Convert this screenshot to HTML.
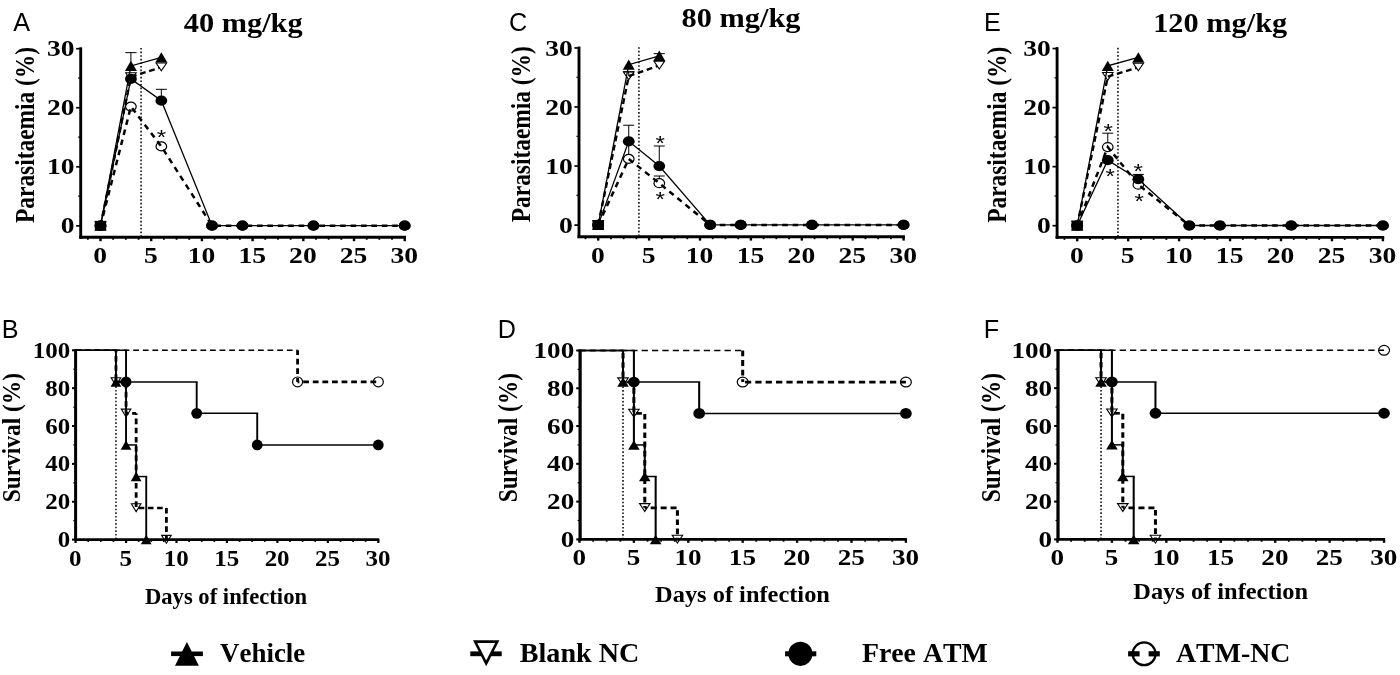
<!DOCTYPE html>
<html lang="en">
<head>
<meta charset="utf-8">
<title>Parasitaemia and survival</title>
<style>
html,body{margin:0;padding:0;background:#fff;}
body{width:1400px;height:675px;overflow:hidden;}
svg{display:block;will-change:transform;}
text{stroke:none;fill:#000;font-weight:bold;font-kerning:none;font-variant-ligatures:none;}
.ser{font-family:"Liberation Serif", "Times New Roman", serif;}
.san{font-family:"Liberation Sans", Arial, sans-serif;}
</style>
</head>
<body>
<svg width="1400" height="675" viewBox="0 0 1400 675" stroke="#000" fill="#000">
<rect x="0" y="0" width="1400" height="675" fill="#fff" stroke="none"/>
<text class="san" transform="translate(13.3 30.9)" font-size="25.2" text-anchor="start" style="font-weight:normal">A</text>
<text class="ser" transform="translate(183.8 31.5) scale(1.08 1)" font-size="28.1" text-anchor="start">40 mg/kg</text>
<text class="ser" transform="translate(34 134.95) rotate(-90) scale(1 1.2)" font-size="23.4" text-anchor="middle">Parasitaemia (%)</text>
<line x1="141.06" y1="48" x2="141.06" y2="236.1" stroke-width="1.5" stroke-dasharray="1.6 2"/>
<line x1="80.7" y1="47.3" x2="80.7" y2="238.75" stroke-width="2.9"/>
<line x1="79.25" y1="237.3" x2="406" y2="237.3" stroke-width="2.9"/>
<line x1="76.1" y1="225.85" x2="80.7" y2="225.85" stroke-width="1.7"/>
<text class="ser" transform="translate(74.5 233.45) scale(1.15 1)" font-size="24" text-anchor="end">0</text>
<line x1="76.1" y1="166.8" x2="80.7" y2="166.8" stroke-width="1.7"/>
<text class="ser" transform="translate(74.5 174.4) scale(1.15 1)" font-size="24" text-anchor="end">10</text>
<line x1="76.1" y1="107.75" x2="80.7" y2="107.75" stroke-width="1.7"/>
<text class="ser" transform="translate(74.5 115.35) scale(1.15 1)" font-size="24" text-anchor="end">20</text>
<line x1="76.1" y1="48.7" x2="80.7" y2="48.7" stroke-width="1.7"/>
<text class="ser" transform="translate(74.5 56.3) scale(1.15 1)" font-size="24" text-anchor="end">30</text>
<line x1="78.1" y1="196.12" x2="80.7" y2="196.12" stroke-width="1.2"/>
<line x1="78.1" y1="137.07" x2="80.7" y2="137.07" stroke-width="1.2"/>
<line x1="78.1" y1="78.03" x2="80.7" y2="78.03" stroke-width="1.2"/>
<line x1="100.5" y1="237.3" x2="100.5" y2="241.2" stroke-width="2.4"/>
<text class="ser" transform="translate(100.1 263.25) scale(1.15 1)" font-size="24" text-anchor="middle">0</text>
<line x1="151.2" y1="237.3" x2="151.2" y2="241.2" stroke-width="2.4"/>
<text class="ser" transform="translate(150.8 263.25) scale(1.15 1)" font-size="24" text-anchor="middle">5</text>
<line x1="201.9" y1="237.3" x2="201.9" y2="241.2" stroke-width="2.4"/>
<text class="ser" transform="translate(201.5 263.25) scale(1.15 1)" font-size="24" text-anchor="middle">10</text>
<line x1="252.6" y1="237.3" x2="252.6" y2="241.2" stroke-width="2.4"/>
<text class="ser" transform="translate(252.2 263.25) scale(1.15 1)" font-size="24" text-anchor="middle">15</text>
<line x1="303.3" y1="237.3" x2="303.3" y2="241.2" stroke-width="2.4"/>
<text class="ser" transform="translate(302.9 263.25) scale(1.15 1)" font-size="24" text-anchor="middle">20</text>
<line x1="354" y1="237.3" x2="354" y2="241.2" stroke-width="2.4"/>
<text class="ser" transform="translate(353.6 263.25) scale(1.15 1)" font-size="24" text-anchor="middle">25</text>
<line x1="404.7" y1="237.3" x2="404.7" y2="241.2" stroke-width="2.4"/>
<text class="ser" transform="translate(404.3 263.25) scale(1.15 1)" font-size="24" text-anchor="middle">30</text>
<line x1="87.83" y1="237.3" x2="87.83" y2="239.8" stroke-width="1.8"/>
<line x1="113.17" y1="237.3" x2="113.17" y2="239.8" stroke-width="1.8"/>
<line x1="125.85" y1="237.3" x2="125.85" y2="239.8" stroke-width="1.8"/>
<line x1="138.53" y1="237.3" x2="138.53" y2="239.8" stroke-width="1.8"/>
<line x1="163.88" y1="237.3" x2="163.88" y2="239.8" stroke-width="1.8"/>
<line x1="176.55" y1="237.3" x2="176.55" y2="239.8" stroke-width="1.8"/>
<line x1="189.23" y1="237.3" x2="189.23" y2="239.8" stroke-width="1.8"/>
<line x1="214.57" y1="237.3" x2="214.57" y2="239.8" stroke-width="1.8"/>
<line x1="227.25" y1="237.3" x2="227.25" y2="239.8" stroke-width="1.8"/>
<line x1="239.93" y1="237.3" x2="239.93" y2="239.8" stroke-width="1.8"/>
<line x1="265.27" y1="237.3" x2="265.27" y2="239.8" stroke-width="1.8"/>
<line x1="277.95" y1="237.3" x2="277.95" y2="239.8" stroke-width="1.8"/>
<line x1="290.62" y1="237.3" x2="290.62" y2="239.8" stroke-width="1.8"/>
<line x1="315.98" y1="237.3" x2="315.98" y2="239.8" stroke-width="1.8"/>
<line x1="328.65" y1="237.3" x2="328.65" y2="239.8" stroke-width="1.8"/>
<line x1="341.33" y1="237.3" x2="341.33" y2="239.8" stroke-width="1.8"/>
<line x1="366.68" y1="237.3" x2="366.68" y2="239.8" stroke-width="1.8"/>
<line x1="379.35" y1="237.3" x2="379.35" y2="239.8" stroke-width="1.8"/>
<line x1="392.03" y1="237.3" x2="392.03" y2="239.8" stroke-width="1.8"/>
<line x1="130.92" y1="61.92" x2="130.92" y2="52.63" stroke-width="1"/>
<line x1="125.32" y1="52.63" x2="136.52" y2="52.63" stroke-width="1"/>
<path d="M100.5 225.65 L130.92 65.92 L161.34 57.42" fill="none" stroke-width="1.3" stroke-linejoin="miter"/>
<polygon points="94.5,230.85 106.5,230.85 100.5,220.45" fill="#000" stroke="none"/>
<polygon points="124.92,71.12 136.92,71.12 130.92,60.72" fill="#000" stroke="none"/>
<polygon points="155.34,62.62 167.34,62.62 161.34,52.22" fill="#000" stroke="none"/>
<path d="M100.5 225.65 L130.92 76.84 L161.34 67.22" fill="none" stroke-width="2.4" stroke-linejoin="miter" stroke-dasharray="5.8 3.7"/>
<polygon points="95.25,221.5 105.75,221.5 100.5,229.25" fill="none" stroke-width="1.1" stroke-linejoin="miter"/>
<polygon points="125.67,72.69 136.17,72.69 130.92,80.44" fill="none" stroke-width="1.1" stroke-linejoin="miter"/>
<polygon points="156.09,63.07 166.59,63.07 161.34,70.82" fill="#fff" stroke-width="1.1" stroke-linejoin="miter"/>
<path d="M100.5 225.65 L130.92 106.61 L161.34 146.4 L212.04 225.65 L242.46 225.65 L313.44 225.65 L404.7 225.65" fill="none" stroke-width="2.5" stroke-linejoin="miter" stroke-dasharray="5.6 4.8"/>
<ellipse cx="100.5" cy="225.65" rx="5.3" ry="4.5" fill="none" stroke-width="1.2"/>
<ellipse cx="130.92" cy="106.61" rx="5.3" ry="4.5" fill="none" stroke-width="1.2"/>
<ellipse cx="161.34" cy="146.4" rx="5.3" ry="4.5" fill="none" stroke-width="1.2"/>
<ellipse cx="212.04" cy="225.65" rx="5.3" ry="4.5" fill="none" stroke-width="1.2"/>
<ellipse cx="242.46" cy="225.65" rx="5.3" ry="4.5" fill="none" stroke-width="1.2"/>
<ellipse cx="313.44" cy="225.65" rx="5.3" ry="4.5" fill="none" stroke-width="1.2"/>
<ellipse cx="404.7" cy="225.65" rx="5.3" ry="4.5" fill="none" stroke-width="1.2"/>
<line x1="161.34" y1="100.7" x2="161.34" y2="89.3" stroke-width="1"/>
<line x1="155.84" y1="89.3" x2="166.84" y2="89.3" stroke-width="1"/>
<path d="M100.5 225.65 L130.92 78.91 L161.34 100.7 L212.04 225.65 L242.46 225.65 L313.44 225.65 L404.7 225.65" fill="none" stroke-width="1.3" stroke-linejoin="miter"/>
<ellipse cx="100.5" cy="225.65" rx="5.9" ry="5.1" fill="#000" stroke="none"/>
<ellipse cx="130.92" cy="78.91" rx="5.9" ry="5.1" fill="#000" stroke="none"/>
<ellipse cx="161.34" cy="100.7" rx="5.9" ry="5.1" fill="#000" stroke="none"/>
<ellipse cx="212.04" cy="225.65" rx="5.9" ry="5.1" fill="#000" stroke="none"/>
<ellipse cx="242.46" cy="225.65" rx="5.9" ry="5.1" fill="#000" stroke="none"/>
<ellipse cx="313.44" cy="225.65" rx="5.9" ry="5.1" fill="#000" stroke="none"/>
<ellipse cx="404.7" cy="225.65" rx="5.9" ry="5.1" fill="#000" stroke="none"/>
<rect x="94.8" y="220.85" width="11.4" height="9.6" fill="#000" stroke="none"/>
<text class="san" transform="translate(161.5 144.2) scale(1.15 1)" font-size="21" text-anchor="middle" style="font-weight:normal">*</text>
<text class="san" transform="translate(509 31)" font-size="25.2" text-anchor="start" style="font-weight:normal">C</text>
<text class="ser" transform="translate(681.6 26.7) scale(1.08 1)" font-size="28.1" text-anchor="start">80 mg/kg</text>
<text class="ser" transform="translate(530 134.2) rotate(-90) scale(1 1.2)" font-size="23.4" text-anchor="middle">Parasitaemia (%)</text>
<line x1="638.92" y1="47.25" x2="638.92" y2="235.5" stroke-width="1.5" stroke-dasharray="1.6 2"/>
<line x1="579" y1="46.55" x2="579" y2="238.15" stroke-width="2.9"/>
<line x1="577.55" y1="236.7" x2="904.9" y2="236.7" stroke-width="2.9"/>
<line x1="574.4" y1="225.1" x2="579" y2="225.1" stroke-width="1.7"/>
<text class="ser" transform="translate(572.8 232.7) scale(1.15 1)" font-size="24" text-anchor="end">0</text>
<line x1="574.4" y1="166.05" x2="579" y2="166.05" stroke-width="1.7"/>
<text class="ser" transform="translate(572.8 173.65) scale(1.15 1)" font-size="24" text-anchor="end">10</text>
<line x1="574.4" y1="107" x2="579" y2="107" stroke-width="1.7"/>
<text class="ser" transform="translate(572.8 114.6) scale(1.15 1)" font-size="24" text-anchor="end">20</text>
<line x1="574.4" y1="47.95" x2="579" y2="47.95" stroke-width="1.7"/>
<text class="ser" transform="translate(572.8 55.55) scale(1.15 1)" font-size="24" text-anchor="end">30</text>
<line x1="576.4" y1="195.38" x2="579" y2="195.38" stroke-width="1.2"/>
<line x1="576.4" y1="136.32" x2="579" y2="136.32" stroke-width="1.2"/>
<line x1="576.4" y1="77.28" x2="579" y2="77.28" stroke-width="1.2"/>
<line x1="598.2" y1="236.7" x2="598.2" y2="240.6" stroke-width="2.4"/>
<text class="ser" transform="translate(597.8 262.65) scale(1.15 1)" font-size="24" text-anchor="middle">0</text>
<line x1="649.1" y1="236.7" x2="649.1" y2="240.6" stroke-width="2.4"/>
<text class="ser" transform="translate(648.7 262.65) scale(1.15 1)" font-size="24" text-anchor="middle">5</text>
<line x1="700" y1="236.7" x2="700" y2="240.6" stroke-width="2.4"/>
<text class="ser" transform="translate(699.6 262.65) scale(1.15 1)" font-size="24" text-anchor="middle">10</text>
<line x1="750.9" y1="236.7" x2="750.9" y2="240.6" stroke-width="2.4"/>
<text class="ser" transform="translate(750.5 262.65) scale(1.15 1)" font-size="24" text-anchor="middle">15</text>
<line x1="801.8" y1="236.7" x2="801.8" y2="240.6" stroke-width="2.4"/>
<text class="ser" transform="translate(801.4 262.65) scale(1.15 1)" font-size="24" text-anchor="middle">20</text>
<line x1="852.7" y1="236.7" x2="852.7" y2="240.6" stroke-width="2.4"/>
<text class="ser" transform="translate(852.3 262.65) scale(1.15 1)" font-size="24" text-anchor="middle">25</text>
<line x1="903.6" y1="236.7" x2="903.6" y2="240.6" stroke-width="2.4"/>
<text class="ser" transform="translate(903.2 262.65) scale(1.15 1)" font-size="24" text-anchor="middle">30</text>
<line x1="585.48" y1="236.7" x2="585.48" y2="239.2" stroke-width="1.8"/>
<line x1="610.93" y1="236.7" x2="610.93" y2="239.2" stroke-width="1.8"/>
<line x1="623.65" y1="236.7" x2="623.65" y2="239.2" stroke-width="1.8"/>
<line x1="636.38" y1="236.7" x2="636.38" y2="239.2" stroke-width="1.8"/>
<line x1="661.83" y1="236.7" x2="661.83" y2="239.2" stroke-width="1.8"/>
<line x1="674.55" y1="236.7" x2="674.55" y2="239.2" stroke-width="1.8"/>
<line x1="687.28" y1="236.7" x2="687.28" y2="239.2" stroke-width="1.8"/>
<line x1="712.73" y1="236.7" x2="712.73" y2="239.2" stroke-width="1.8"/>
<line x1="725.45" y1="236.7" x2="725.45" y2="239.2" stroke-width="1.8"/>
<line x1="738.18" y1="236.7" x2="738.18" y2="239.2" stroke-width="1.8"/>
<line x1="763.62" y1="236.7" x2="763.62" y2="239.2" stroke-width="1.8"/>
<line x1="776.35" y1="236.7" x2="776.35" y2="239.2" stroke-width="1.8"/>
<line x1="789.08" y1="236.7" x2="789.08" y2="239.2" stroke-width="1.8"/>
<line x1="814.53" y1="236.7" x2="814.53" y2="239.2" stroke-width="1.8"/>
<line x1="827.25" y1="236.7" x2="827.25" y2="239.2" stroke-width="1.8"/>
<line x1="839.98" y1="236.7" x2="839.98" y2="239.2" stroke-width="1.8"/>
<line x1="865.42" y1="236.7" x2="865.42" y2="239.2" stroke-width="1.8"/>
<line x1="878.15" y1="236.7" x2="878.15" y2="239.2" stroke-width="1.8"/>
<line x1="890.88" y1="236.7" x2="890.88" y2="239.2" stroke-width="1.8"/>
<line x1="659.28" y1="51.78" x2="659.28" y2="53.66" stroke-width="1"/>
<line x1="653.68" y1="53.66" x2="664.88" y2="53.66" stroke-width="1"/>
<path d="M598.2 224.9 L628.74 64.64 L659.28 55.78" fill="none" stroke-width="1.3" stroke-linejoin="miter"/>
<polygon points="592.2,230.1 604.2,230.1 598.2,219.7" fill="#000" stroke="none"/>
<polygon points="622.74,69.84 634.74,69.84 628.74,59.44" fill="#000" stroke="none"/>
<polygon points="653.28,60.98 665.28,60.98 659.28,50.58" fill="#000" stroke="none"/>
<line x1="628.74" y1="76.09" x2="628.74" y2="71.67" stroke-width="1"/>
<line x1="623.14" y1="71.67" x2="634.34" y2="71.67" stroke-width="1"/>
<path d="M598.2 224.9 L628.74 76.09 L659.28 65.47" fill="none" stroke-width="2.4" stroke-linejoin="miter" stroke-dasharray="5.8 3.7"/>
<polygon points="592.95,220.75 603.45,220.75 598.2,228.5" fill="none" stroke-width="1.1" stroke-linejoin="miter"/>
<polygon points="623.49,71.94 633.99,71.94 628.74,79.69" fill="none" stroke-width="1.1" stroke-linejoin="miter"/>
<polygon points="654.03,61.31 664.53,61.31 659.28,69.07" fill="#fff" stroke-width="1.1" stroke-linejoin="miter"/>
<line x1="628.74" y1="154.08" x2="628.74" y2="142.23" stroke-width="1"/>
<line x1="623.24" y1="142.23" x2="634.24" y2="142.23" stroke-width="1"/>
<line x1="659.28" y1="178.41" x2="659.28" y2="176.01" stroke-width="1"/>
<line x1="653.78" y1="176.01" x2="664.78" y2="176.01" stroke-width="1"/>
<path d="M598.2 224.9 L628.74 158.88 L659.28 183.21 L710.18 224.9 L740.72 224.9 L811.98 224.9 L903.6 224.9" fill="none" stroke-width="2.5" stroke-linejoin="miter" stroke-dasharray="5.6 4.8"/>
<ellipse cx="598.2" cy="224.9" rx="5.3" ry="4.5" fill="none" stroke-width="1.2"/>
<ellipse cx="628.74" cy="158.88" rx="5.3" ry="4.5" fill="none" stroke-width="1.2"/>
<ellipse cx="659.28" cy="183.21" rx="5.3" ry="4.5" fill="none" stroke-width="1.2"/>
<ellipse cx="710.18" cy="224.9" rx="5.3" ry="4.5" fill="none" stroke-width="1.2"/>
<ellipse cx="740.72" cy="224.9" rx="5.3" ry="4.5" fill="none" stroke-width="1.2"/>
<ellipse cx="811.98" cy="224.9" rx="5.3" ry="4.5" fill="none" stroke-width="1.2"/>
<ellipse cx="903.6" cy="224.9" rx="5.3" ry="4.5" fill="none" stroke-width="1.2"/>
<line x1="628.74" y1="141.29" x2="628.74" y2="125.22" stroke-width="1"/>
<line x1="623.24" y1="125.22" x2="634.24" y2="125.22" stroke-width="1"/>
<line x1="659.28" y1="166.09" x2="659.28" y2="146.01" stroke-width="1"/>
<line x1="653.78" y1="146.01" x2="664.78" y2="146.01" stroke-width="1"/>
<path d="M598.2 224.9 L628.74 141.29 L659.28 166.09 L710.18 224.9 L740.72 224.9 L811.98 224.9 L903.6 224.9" fill="none" stroke-width="1.3" stroke-linejoin="miter"/>
<ellipse cx="598.2" cy="224.9" rx="5.9" ry="5.1" fill="#000" stroke="none"/>
<ellipse cx="628.74" cy="141.29" rx="5.9" ry="5.1" fill="#000" stroke="none"/>
<ellipse cx="659.28" cy="166.09" rx="5.9" ry="5.1" fill="#000" stroke="none"/>
<ellipse cx="710.18" cy="224.9" rx="5.9" ry="5.1" fill="#000" stroke="none"/>
<ellipse cx="740.72" cy="224.9" rx="5.9" ry="5.1" fill="#000" stroke="none"/>
<ellipse cx="811.98" cy="224.9" rx="5.9" ry="5.1" fill="#000" stroke="none"/>
<ellipse cx="903.6" cy="224.9" rx="5.9" ry="5.1" fill="#000" stroke="none"/>
<rect x="592.5" y="220.1" width="11.4" height="9.6" fill="#000" stroke="none"/>
<text class="san" transform="translate(660.2 149.7) scale(1.15 1)" font-size="21" text-anchor="middle" style="font-weight:normal">*</text>
<text class="san" transform="translate(660.1 205.7) scale(1.15 1)" font-size="21" text-anchor="middle" style="font-weight:normal">*</text>
<text class="san" transform="translate(983.9 30.9)" font-size="25.2" text-anchor="start" style="font-weight:normal">E</text>
<text class="ser" transform="translate(1153.2 31.5) scale(1.08 1)" font-size="28.1" text-anchor="start">120 mg/kg</text>
<text class="ser" transform="translate(1006.1 134.8) rotate(-90) scale(1 1.2)" font-size="23.4" text-anchor="middle">Parasitaemia (%)</text>
<line x1="1117.96" y1="47.85" x2="1117.96" y2="236.2" stroke-width="1.5" stroke-dasharray="1.6 2"/>
<line x1="1057.1" y1="47.15" x2="1057.1" y2="238.85" stroke-width="2.9"/>
<line x1="1055.65" y1="237.4" x2="1384.2" y2="237.4" stroke-width="2.9"/>
<line x1="1052.5" y1="225.7" x2="1057.1" y2="225.7" stroke-width="1.7"/>
<text class="ser" transform="translate(1050.9 233.3) scale(1.15 1)" font-size="24" text-anchor="end">0</text>
<line x1="1052.5" y1="166.65" x2="1057.1" y2="166.65" stroke-width="1.7"/>
<text class="ser" transform="translate(1050.9 174.25) scale(1.15 1)" font-size="24" text-anchor="end">10</text>
<line x1="1052.5" y1="107.6" x2="1057.1" y2="107.6" stroke-width="1.7"/>
<text class="ser" transform="translate(1050.9 115.2) scale(1.15 1)" font-size="24" text-anchor="end">20</text>
<line x1="1052.5" y1="48.55" x2="1057.1" y2="48.55" stroke-width="1.7"/>
<text class="ser" transform="translate(1050.9 56.15) scale(1.15 1)" font-size="24" text-anchor="end">30</text>
<line x1="1054.5" y1="195.97" x2="1057.1" y2="195.97" stroke-width="1.2"/>
<line x1="1054.5" y1="136.93" x2="1057.1" y2="136.93" stroke-width="1.2"/>
<line x1="1054.5" y1="77.88" x2="1057.1" y2="77.88" stroke-width="1.2"/>
<line x1="1077.2" y1="237.4" x2="1077.2" y2="241.3" stroke-width="2.4"/>
<text class="ser" transform="translate(1076.8 263.35) scale(1.15 1)" font-size="24" text-anchor="middle">0</text>
<line x1="1128.15" y1="237.4" x2="1128.15" y2="241.3" stroke-width="2.4"/>
<text class="ser" transform="translate(1127.75 263.35) scale(1.15 1)" font-size="24" text-anchor="middle">5</text>
<line x1="1179.1" y1="237.4" x2="1179.1" y2="241.3" stroke-width="2.4"/>
<text class="ser" transform="translate(1178.7 263.35) scale(1.15 1)" font-size="24" text-anchor="middle">10</text>
<line x1="1230.05" y1="237.4" x2="1230.05" y2="241.3" stroke-width="2.4"/>
<text class="ser" transform="translate(1229.65 263.35) scale(1.15 1)" font-size="24" text-anchor="middle">15</text>
<line x1="1281" y1="237.4" x2="1281" y2="241.3" stroke-width="2.4"/>
<text class="ser" transform="translate(1280.6 263.35) scale(1.15 1)" font-size="24" text-anchor="middle">20</text>
<line x1="1331.95" y1="237.4" x2="1331.95" y2="241.3" stroke-width="2.4"/>
<text class="ser" transform="translate(1331.55 263.35) scale(1.15 1)" font-size="24" text-anchor="middle">25</text>
<line x1="1382.9" y1="237.4" x2="1382.9" y2="241.3" stroke-width="2.4"/>
<text class="ser" transform="translate(1382.5 263.35) scale(1.15 1)" font-size="24" text-anchor="middle">30</text>
<line x1="1064.46" y1="237.4" x2="1064.46" y2="239.9" stroke-width="1.8"/>
<line x1="1089.94" y1="237.4" x2="1089.94" y2="239.9" stroke-width="1.8"/>
<line x1="1102.67" y1="237.4" x2="1102.67" y2="239.9" stroke-width="1.8"/>
<line x1="1115.41" y1="237.4" x2="1115.41" y2="239.9" stroke-width="1.8"/>
<line x1="1140.89" y1="237.4" x2="1140.89" y2="239.9" stroke-width="1.8"/>
<line x1="1153.62" y1="237.4" x2="1153.62" y2="239.9" stroke-width="1.8"/>
<line x1="1166.36" y1="237.4" x2="1166.36" y2="239.9" stroke-width="1.8"/>
<line x1="1191.84" y1="237.4" x2="1191.84" y2="239.9" stroke-width="1.8"/>
<line x1="1204.58" y1="237.4" x2="1204.58" y2="239.9" stroke-width="1.8"/>
<line x1="1217.31" y1="237.4" x2="1217.31" y2="239.9" stroke-width="1.8"/>
<line x1="1242.79" y1="237.4" x2="1242.79" y2="239.9" stroke-width="1.8"/>
<line x1="1255.53" y1="237.4" x2="1255.53" y2="239.9" stroke-width="1.8"/>
<line x1="1268.26" y1="237.4" x2="1268.26" y2="239.9" stroke-width="1.8"/>
<line x1="1293.74" y1="237.4" x2="1293.74" y2="239.9" stroke-width="1.8"/>
<line x1="1306.47" y1="237.4" x2="1306.47" y2="239.9" stroke-width="1.8"/>
<line x1="1319.21" y1="237.4" x2="1319.21" y2="239.9" stroke-width="1.8"/>
<line x1="1344.69" y1="237.4" x2="1344.69" y2="239.9" stroke-width="1.8"/>
<line x1="1357.42" y1="237.4" x2="1357.42" y2="239.9" stroke-width="1.8"/>
<line x1="1370.16" y1="237.4" x2="1370.16" y2="239.9" stroke-width="1.8"/>
<path d="M1077.2 225.5 L1107.77 65.89 L1138.34 57.38" fill="none" stroke-width="1.3" stroke-linejoin="miter"/>
<polygon points="1071.2,230.7 1083.2,230.7 1077.2,220.3" fill="#000" stroke="none"/>
<polygon points="1101.77,71.09 1113.77,71.09 1107.77,60.69" fill="#000" stroke="none"/>
<polygon points="1132.34,62.58 1144.34,62.58 1138.34,52.18" fill="#000" stroke="none"/>
<path d="M1077.2 225.5 L1107.77 76.69 L1138.34 67.25" fill="none" stroke-width="2.4" stroke-linejoin="miter" stroke-dasharray="5.8 3.7"/>
<polygon points="1071.95,221.35 1082.45,221.35 1077.2,229.1" fill="none" stroke-width="1.1" stroke-linejoin="miter"/>
<polygon points="1102.52,72.54 1113.02,72.54 1107.77,80.29" fill="none" stroke-width="1.1" stroke-linejoin="miter"/>
<polygon points="1133.09,63.1 1143.59,63.1 1138.34,70.85" fill="#fff" stroke-width="1.1" stroke-linejoin="miter"/>
<line x1="1107.77" y1="142.28" x2="1107.77" y2="133.2" stroke-width="1"/>
<line x1="1102.27" y1="133.2" x2="1113.27" y2="133.2" stroke-width="1"/>
<path d="M1077.2 225.5 L1107.77 147.08 L1138.34 184.7 L1189.29 225.5 L1219.86 225.5 L1291.19 225.5 L1382.9 225.5" fill="none" stroke-width="2.5" stroke-linejoin="miter" stroke-dasharray="5.6 4.8"/>
<ellipse cx="1077.2" cy="225.5" rx="5.3" ry="4.5" fill="none" stroke-width="1.2"/>
<ellipse cx="1107.77" cy="147.08" rx="5.3" ry="4.5" fill="none" stroke-width="1.2"/>
<ellipse cx="1138.34" cy="184.7" rx="5.3" ry="4.5" fill="none" stroke-width="1.2"/>
<ellipse cx="1189.29" cy="225.5" rx="5.3" ry="4.5" fill="none" stroke-width="1.2"/>
<ellipse cx="1219.86" cy="225.5" rx="5.3" ry="4.5" fill="none" stroke-width="1.2"/>
<ellipse cx="1291.19" cy="225.5" rx="5.3" ry="4.5" fill="none" stroke-width="1.2"/>
<ellipse cx="1382.9" cy="225.5" rx="5.3" ry="4.5" fill="none" stroke-width="1.2"/>
<line x1="1138.34" y1="179.2" x2="1138.34" y2="174.42" stroke-width="1"/>
<line x1="1132.84" y1="174.42" x2="1143.84" y2="174.42" stroke-width="1"/>
<path d="M1077.2 225.5 L1107.77 160.13 L1138.34 179.2 L1189.29 225.5 L1219.86 225.5 L1291.19 225.5 L1382.9 225.5" fill="none" stroke-width="1.3" stroke-linejoin="miter"/>
<ellipse cx="1077.2" cy="225.5" rx="5.9" ry="5.1" fill="#000" stroke="none"/>
<ellipse cx="1107.77" cy="160.13" rx="5.9" ry="5.1" fill="#000" stroke="none"/>
<ellipse cx="1138.34" cy="179.2" rx="5.9" ry="5.1" fill="#000" stroke="none"/>
<ellipse cx="1189.29" cy="225.5" rx="5.9" ry="5.1" fill="#000" stroke="none"/>
<ellipse cx="1219.86" cy="225.5" rx="5.9" ry="5.1" fill="#000" stroke="none"/>
<ellipse cx="1291.19" cy="225.5" rx="5.9" ry="5.1" fill="#000" stroke="none"/>
<ellipse cx="1382.9" cy="225.5" rx="5.9" ry="5.1" fill="#000" stroke="none"/>
<rect x="1071.5" y="220.7" width="11.4" height="9.6" fill="#000" stroke="none"/>
<text class="san" transform="translate(1108.2 137.6) scale(1.15 1)" font-size="21" text-anchor="middle" style="font-weight:normal">*</text>
<text class="san" transform="translate(1110.1 183.4) scale(1.15 1)" font-size="21" text-anchor="middle" style="font-weight:normal">*</text>
<text class="san" transform="translate(1138.3 178) scale(1.15 1)" font-size="21" text-anchor="middle" style="font-weight:normal">*</text>
<text class="san" transform="translate(1139.3 207.8) scale(1.15 1)" font-size="21" text-anchor="middle" style="font-weight:normal">*</text>
<text class="san" transform="translate(1.8 338.1)" font-size="25.2" text-anchor="start" style="font-weight:normal">B</text>
<text class="ser" transform="translate(19.9 437.7) rotate(-90) scale(1 1.06)" font-size="23.4" text-anchor="middle">Survival (%)</text>
<text class="ser" transform="translate(226 604) scale(1.01 1)" font-size="22.4" text-anchor="middle">Days of infection</text>
<line x1="115.96" y1="350.3" x2="115.96" y2="539.6" stroke-width="1.4" stroke-dasharray="1.6 2"/>
<line x1="75.6" y1="349.5" x2="75.6" y2="541" stroke-width="3"/>
<line x1="74.1" y1="539.6" x2="379.3" y2="539.6" stroke-width="2.8"/>
<line x1="72" y1="539.6" x2="75.6" y2="539.6" stroke-width="2"/>
<text class="ser" transform="translate(70.2 547.2) scale(1.04 1)" font-size="24" text-anchor="end">0</text>
<line x1="73.3" y1="520.67" x2="75.6" y2="520.67" stroke-width="1.2"/>
<line x1="72" y1="501.74" x2="75.6" y2="501.74" stroke-width="2"/>
<text class="ser" transform="translate(70.2 509.34) scale(1.04 1)" font-size="24" text-anchor="end">20</text>
<line x1="73.3" y1="482.81" x2="75.6" y2="482.81" stroke-width="1.2"/>
<line x1="72" y1="463.88" x2="75.6" y2="463.88" stroke-width="2"/>
<text class="ser" transform="translate(70.2 471.48) scale(1.04 1)" font-size="24" text-anchor="end">40</text>
<line x1="73.3" y1="444.95" x2="75.6" y2="444.95" stroke-width="1.2"/>
<line x1="72" y1="426.02" x2="75.6" y2="426.02" stroke-width="2"/>
<text class="ser" transform="translate(70.2 433.62) scale(1.04 1)" font-size="24" text-anchor="end">60</text>
<line x1="73.3" y1="407.09" x2="75.6" y2="407.09" stroke-width="1.2"/>
<line x1="72" y1="388.16" x2="75.6" y2="388.16" stroke-width="2"/>
<text class="ser" transform="translate(70.2 395.76) scale(1.04 1)" font-size="24" text-anchor="end">80</text>
<line x1="73.3" y1="369.23" x2="75.6" y2="369.23" stroke-width="1.2"/>
<line x1="72" y1="350.3" x2="75.6" y2="350.3" stroke-width="2"/>
<text class="ser" transform="translate(70.2 357.9) scale(1.04 1)" font-size="24" text-anchor="end">100</text>
<line x1="75.6" y1="539.6" x2="75.6" y2="543" stroke-width="2.2"/>
<text class="ser" transform="translate(75.3 565.5) scale(1.04 1)" font-size="24" text-anchor="middle">0</text>
<line x1="126.05" y1="539.6" x2="126.05" y2="543" stroke-width="2.2"/>
<text class="ser" transform="translate(125.75 565.5) scale(1.04 1)" font-size="24" text-anchor="middle">5</text>
<line x1="176.5" y1="539.6" x2="176.5" y2="543" stroke-width="2.2"/>
<text class="ser" transform="translate(176.2 565.5) scale(1.04 1)" font-size="24" text-anchor="middle">10</text>
<line x1="226.95" y1="539.6" x2="226.95" y2="543" stroke-width="2.2"/>
<text class="ser" transform="translate(226.65 565.5) scale(1.04 1)" font-size="24" text-anchor="middle">15</text>
<line x1="277.4" y1="539.6" x2="277.4" y2="543" stroke-width="2.2"/>
<text class="ser" transform="translate(277.1 565.5) scale(1.04 1)" font-size="24" text-anchor="middle">20</text>
<line x1="327.85" y1="539.6" x2="327.85" y2="543" stroke-width="2.2"/>
<text class="ser" transform="translate(327.55 565.5) scale(1.04 1)" font-size="24" text-anchor="middle">25</text>
<line x1="378.3" y1="539.6" x2="378.3" y2="543" stroke-width="2.2"/>
<text class="ser" transform="translate(378 565.5) scale(1.04 1)" font-size="24" text-anchor="middle">30</text>
<line x1="88.21" y1="539.6" x2="88.21" y2="541.9" stroke-width="1.7"/>
<line x1="100.82" y1="539.6" x2="100.82" y2="541.9" stroke-width="1.7"/>
<line x1="113.44" y1="539.6" x2="113.44" y2="541.9" stroke-width="1.7"/>
<line x1="138.66" y1="539.6" x2="138.66" y2="541.9" stroke-width="1.7"/>
<line x1="151.27" y1="539.6" x2="151.27" y2="541.9" stroke-width="1.7"/>
<line x1="163.89" y1="539.6" x2="163.89" y2="541.9" stroke-width="1.7"/>
<line x1="189.11" y1="539.6" x2="189.11" y2="541.9" stroke-width="1.7"/>
<line x1="201.72" y1="539.6" x2="201.72" y2="541.9" stroke-width="1.7"/>
<line x1="214.34" y1="539.6" x2="214.34" y2="541.9" stroke-width="1.7"/>
<line x1="239.56" y1="539.6" x2="239.56" y2="541.9" stroke-width="1.7"/>
<line x1="252.17" y1="539.6" x2="252.17" y2="541.9" stroke-width="1.7"/>
<line x1="264.79" y1="539.6" x2="264.79" y2="541.9" stroke-width="1.7"/>
<line x1="290.01" y1="539.6" x2="290.01" y2="541.9" stroke-width="1.7"/>
<line x1="302.62" y1="539.6" x2="302.62" y2="541.9" stroke-width="1.7"/>
<line x1="315.24" y1="539.6" x2="315.24" y2="541.9" stroke-width="1.7"/>
<line x1="340.46" y1="539.6" x2="340.46" y2="541.9" stroke-width="1.7"/>
<line x1="353.08" y1="539.6" x2="353.08" y2="541.9" stroke-width="1.7"/>
<line x1="365.69" y1="539.6" x2="365.69" y2="541.9" stroke-width="1.7"/>
<line x1="74.65" y1="350.3" x2="116.91" y2="350.3" stroke-width="1.5"/>
<line x1="115.96" y1="350.3" x2="115.96" y2="381.91" stroke-width="1.9"/>
<line x1="115.01" y1="381.91" x2="127" y2="381.91" stroke-width="1.5"/>
<line x1="126.05" y1="381.91" x2="126.05" y2="444.95" stroke-width="1.9"/>
<line x1="125.1" y1="444.95" x2="137.09" y2="444.95" stroke-width="1.5"/>
<line x1="136.14" y1="444.95" x2="136.14" y2="476.56" stroke-width="1.9"/>
<line x1="135.19" y1="476.56" x2="147.18" y2="476.56" stroke-width="1.5"/>
<line x1="146.23" y1="476.56" x2="146.23" y2="539.6" stroke-width="1.9"/>
<polygon points="110.61,386.66 121.31,386.66 115.96,377.16" fill="#000" stroke="none"/>
<polygon points="120.7,449.7 131.4,449.7 126.05,440.2" fill="#000" stroke="none"/>
<polygon points="130.79,481.31 141.49,481.31 136.14,471.81" fill="#000" stroke="none"/>
<polygon points="140.88,544.35 151.58,544.35 146.23,534.85" fill="#000" stroke="none"/>
<line x1="75.6" y1="350.3" x2="115.96" y2="350.3" stroke-width="1.5" stroke-dasharray="5.6 3.6" stroke-dashoffset="0"/>
<line x1="115.96" y1="350.3" x2="115.96" y2="381.91" stroke-width="2.8" stroke-dasharray="5.6 3.6" stroke-dashoffset="3.56"/>
<line x1="115.96" y1="381.91" x2="126.05" y2="381.91" stroke-width="2.7" stroke-dasharray="5.6 3.6" stroke-dashoffset="7.57"/>
<line x1="126.05" y1="381.91" x2="126.05" y2="413.34" stroke-width="2.8" stroke-dasharray="5.6 3.6" stroke-dashoffset="8.46"/>
<line x1="126.05" y1="413.34" x2="136.14" y2="413.34" stroke-width="2.7" stroke-dasharray="5.6 3.6" stroke-dashoffset="3.09"/>
<line x1="136.14" y1="413.34" x2="136.14" y2="507.99" stroke-width="2.8" stroke-dasharray="5.6 3.6" stroke-dashoffset="3.98"/>
<line x1="136.14" y1="507.99" x2="166.41" y2="507.99" stroke-width="2.7" stroke-dasharray="5.6 3.6" stroke-dashoffset="6.63"/>
<line x1="166.41" y1="507.99" x2="166.41" y2="539.6" stroke-width="2.8" stroke-dasharray="5.6 3.6" stroke-dashoffset="0.1"/>
<polygon points="111.16,377.71 120.76,377.71 115.96,385.56" fill="none" stroke-width="1.1" stroke-linejoin="miter"/>
<polygon points="121.25,409.14 130.85,409.14 126.05,416.99" fill="none" stroke-width="1.1" stroke-linejoin="miter"/>
<polygon points="131.34,503.79 140.94,503.79 136.14,511.64" fill="none" stroke-width="1.1" stroke-linejoin="miter"/>
<polygon points="161.61,535.4 171.21,535.4 166.41,543.25" fill="none" stroke-width="1.1" stroke-linejoin="miter"/>
<line x1="74.65" y1="350.3" x2="127" y2="350.3" stroke-width="1.5"/>
<line x1="126.05" y1="350.3" x2="126.05" y2="381.91" stroke-width="1.9"/>
<line x1="125.1" y1="381.91" x2="197.63" y2="381.91" stroke-width="1.5"/>
<line x1="196.68" y1="381.91" x2="196.68" y2="413.34" stroke-width="1.9"/>
<line x1="195.73" y1="413.34" x2="258.17" y2="413.34" stroke-width="1.5"/>
<line x1="257.22" y1="413.34" x2="257.22" y2="444.95" stroke-width="1.9"/>
<line x1="256.27" y1="444.95" x2="379.25" y2="444.95" stroke-width="1.5"/>
<ellipse cx="126.05" cy="381.91" rx="5.4" ry="5.4" fill="#000" stroke="none"/>
<ellipse cx="196.68" cy="413.34" rx="5.4" ry="5.4" fill="#000" stroke="none"/>
<ellipse cx="257.22" cy="444.95" rx="5.4" ry="5.4" fill="#000" stroke="none"/>
<ellipse cx="378.3" cy="444.95" rx="5.4" ry="5.4" fill="#000" stroke="none"/>
<line x1="75.6" y1="350.3" x2="297.58" y2="350.3" stroke-width="1.5" stroke-dasharray="5.8 3.8" stroke-dashoffset="0"/>
<line x1="297.58" y1="350.3" x2="297.58" y2="381.91" stroke-width="2.8" stroke-dasharray="5.8 3.8" stroke-dashoffset="1.18"/>
<line x1="297.58" y1="381.91" x2="378.3" y2="381.91" stroke-width="2.7" stroke-dasharray="5.8 3.8" stroke-dashoffset="3.99"/>
<ellipse cx="297.58" cy="381.91" rx="5" ry="4.9" fill="none" stroke-width="1.2"/>
<ellipse cx="378.3" cy="381.91" rx="5" ry="4.9" fill="none" stroke-width="1.2"/>
<text class="san" transform="translate(497.8 338.2)" font-size="25.2" text-anchor="start" style="font-weight:normal">D</text>
<text class="ser" transform="translate(517 437.7) rotate(-90) scale(1 1.2)" font-size="23.4" text-anchor="middle">Survival (%)</text>
<text class="ser" transform="translate(742.5 602.1) scale(1.09 1)" font-size="22.4" text-anchor="middle">Days of infection</text>
<line x1="623.02" y1="350.5" x2="623.02" y2="539.4" stroke-width="1.51" stroke-dasharray="1.6 2"/>
<line x1="580.1" y1="349.7" x2="580.1" y2="540.8" stroke-width="3.24"/>
<line x1="578.48" y1="539.4" x2="906.9" y2="539.4" stroke-width="2.8"/>
<line x1="576.21" y1="539.4" x2="580.1" y2="539.4" stroke-width="2"/>
<text class="ser" transform="translate(574.2 547) scale(1.13 1)" font-size="24" text-anchor="end">0</text>
<line x1="577.62" y1="520.51" x2="580.1" y2="520.51" stroke-width="1.2"/>
<line x1="576.21" y1="501.62" x2="580.1" y2="501.62" stroke-width="2"/>
<text class="ser" transform="translate(574.2 509.22) scale(1.13 1)" font-size="24" text-anchor="end">20</text>
<line x1="577.62" y1="482.73" x2="580.1" y2="482.73" stroke-width="1.2"/>
<line x1="576.21" y1="463.84" x2="580.1" y2="463.84" stroke-width="2"/>
<text class="ser" transform="translate(574.2 471.44) scale(1.13 1)" font-size="24" text-anchor="end">40</text>
<line x1="577.62" y1="444.95" x2="580.1" y2="444.95" stroke-width="1.2"/>
<line x1="576.21" y1="426.06" x2="580.1" y2="426.06" stroke-width="2"/>
<text class="ser" transform="translate(574.2 433.66) scale(1.13 1)" font-size="24" text-anchor="end">60</text>
<line x1="577.62" y1="407.17" x2="580.1" y2="407.17" stroke-width="1.2"/>
<line x1="576.21" y1="388.28" x2="580.1" y2="388.28" stroke-width="2"/>
<text class="ser" transform="translate(574.2 395.88) scale(1.13 1)" font-size="24" text-anchor="end">80</text>
<line x1="577.62" y1="369.39" x2="580.1" y2="369.39" stroke-width="1.2"/>
<line x1="576.21" y1="350.5" x2="580.1" y2="350.5" stroke-width="2"/>
<text class="ser" transform="translate(574.2 358.1) scale(1.13 1)" font-size="24" text-anchor="end">100</text>
<line x1="579.5" y1="539.4" x2="579.5" y2="542.8" stroke-width="2.38"/>
<text class="ser" transform="translate(579.2 564.9) scale(1.13 1)" font-size="24" text-anchor="middle">0</text>
<line x1="633.9" y1="539.4" x2="633.9" y2="542.8" stroke-width="2.38"/>
<text class="ser" transform="translate(633.6 564.9) scale(1.13 1)" font-size="24" text-anchor="middle">5</text>
<line x1="688.3" y1="539.4" x2="688.3" y2="542.8" stroke-width="2.38"/>
<text class="ser" transform="translate(688 564.9) scale(1.13 1)" font-size="24" text-anchor="middle">10</text>
<line x1="742.7" y1="539.4" x2="742.7" y2="542.8" stroke-width="2.38"/>
<text class="ser" transform="translate(742.4 564.9) scale(1.13 1)" font-size="24" text-anchor="middle">15</text>
<line x1="797.1" y1="539.4" x2="797.1" y2="542.8" stroke-width="2.38"/>
<text class="ser" transform="translate(796.8 564.9) scale(1.13 1)" font-size="24" text-anchor="middle">20</text>
<line x1="851.5" y1="539.4" x2="851.5" y2="542.8" stroke-width="2.38"/>
<text class="ser" transform="translate(851.2 564.9) scale(1.13 1)" font-size="24" text-anchor="middle">25</text>
<line x1="905.9" y1="539.4" x2="905.9" y2="542.8" stroke-width="2.38"/>
<text class="ser" transform="translate(905.6 564.9) scale(1.13 1)" font-size="24" text-anchor="middle">30</text>
<line x1="593.1" y1="539.4" x2="593.1" y2="541.7" stroke-width="1.84"/>
<line x1="606.7" y1="539.4" x2="606.7" y2="541.7" stroke-width="1.84"/>
<line x1="620.3" y1="539.4" x2="620.3" y2="541.7" stroke-width="1.84"/>
<line x1="647.5" y1="539.4" x2="647.5" y2="541.7" stroke-width="1.84"/>
<line x1="661.1" y1="539.4" x2="661.1" y2="541.7" stroke-width="1.84"/>
<line x1="674.7" y1="539.4" x2="674.7" y2="541.7" stroke-width="1.84"/>
<line x1="701.9" y1="539.4" x2="701.9" y2="541.7" stroke-width="1.84"/>
<line x1="715.5" y1="539.4" x2="715.5" y2="541.7" stroke-width="1.84"/>
<line x1="729.1" y1="539.4" x2="729.1" y2="541.7" stroke-width="1.84"/>
<line x1="756.3" y1="539.4" x2="756.3" y2="541.7" stroke-width="1.84"/>
<line x1="769.9" y1="539.4" x2="769.9" y2="541.7" stroke-width="1.84"/>
<line x1="783.5" y1="539.4" x2="783.5" y2="541.7" stroke-width="1.84"/>
<line x1="810.7" y1="539.4" x2="810.7" y2="541.7" stroke-width="1.84"/>
<line x1="824.3" y1="539.4" x2="824.3" y2="541.7" stroke-width="1.84"/>
<line x1="837.9" y1="539.4" x2="837.9" y2="541.7" stroke-width="1.84"/>
<line x1="865.1" y1="539.4" x2="865.1" y2="541.7" stroke-width="1.84"/>
<line x1="878.7" y1="539.4" x2="878.7" y2="541.7" stroke-width="1.84"/>
<line x1="892.3" y1="539.4" x2="892.3" y2="541.7" stroke-width="1.84"/>
<line x1="578.47" y1="350.5" x2="624.05" y2="350.5" stroke-width="1.5"/>
<line x1="623.02" y1="350.5" x2="623.02" y2="382.05" stroke-width="2.05"/>
<line x1="621.99" y1="382.05" x2="634.93" y2="382.05" stroke-width="1.5"/>
<line x1="633.9" y1="382.05" x2="633.9" y2="444.95" stroke-width="2.05"/>
<line x1="632.87" y1="444.95" x2="645.81" y2="444.95" stroke-width="1.5"/>
<line x1="644.78" y1="444.95" x2="644.78" y2="476.5" stroke-width="2.05"/>
<line x1="643.75" y1="476.5" x2="656.69" y2="476.5" stroke-width="1.5"/>
<line x1="655.66" y1="476.5" x2="655.66" y2="539.4" stroke-width="2.05"/>
<polygon points="617.24,386.8 628.8,386.8 623.02,377.3" fill="#000" stroke="none"/>
<polygon points="628.12,449.7 639.68,449.7 633.9,440.2" fill="#000" stroke="none"/>
<polygon points="639,481.25 650.56,481.25 644.78,471.75" fill="#000" stroke="none"/>
<polygon points="649.88,544.15 661.44,544.15 655.66,534.65" fill="#000" stroke="none"/>
<line x1="579.5" y1="350.5" x2="623.02" y2="350.5" stroke-width="1.5" stroke-dasharray="6.05 3.89" stroke-dashoffset="0"/>
<line x1="623.02" y1="350.5" x2="623.02" y2="382.05" stroke-width="3.02" stroke-dasharray="5.6 3.6" stroke-dashoffset="6.72"/>
<line x1="623.02" y1="382.05" x2="633.9" y2="382.05" stroke-width="2.7" stroke-dasharray="6.05 3.89" stroke-dashoffset="5.51"/>
<line x1="633.9" y1="382.05" x2="633.9" y2="413.4" stroke-width="3.02" stroke-dasharray="5.6 3.6" stroke-dashoffset="3.15"/>
<line x1="633.9" y1="413.4" x2="644.78" y2="413.4" stroke-width="2.7" stroke-dasharray="6.05 3.89" stroke-dashoffset="8.01"/>
<line x1="644.78" y1="413.4" x2="644.78" y2="507.85" stroke-width="3.02" stroke-dasharray="5.6 3.6" stroke-dashoffset="8.58"/>
<line x1="644.78" y1="507.85" x2="677.42" y2="507.85" stroke-width="2.7" stroke-dasharray="6.05 3.89" stroke-dashoffset="4.04"/>
<line x1="677.42" y1="507.85" x2="677.42" y2="539.4" stroke-width="3.02" stroke-dasharray="5.6 3.6" stroke-dashoffset="6.87"/>
<polygon points="617.79,377.85 628.25,377.85 623.02,385.7" fill="none" stroke-width="1.1" stroke-linejoin="miter"/>
<polygon points="628.67,409.2 639.13,409.2 633.9,417.05" fill="none" stroke-width="1.1" stroke-linejoin="miter"/>
<polygon points="639.55,503.65 650.01,503.65 644.78,511.5" fill="none" stroke-width="1.1" stroke-linejoin="miter"/>
<polygon points="672.19,535.2 682.65,535.2 677.42,543.05" fill="none" stroke-width="1.1" stroke-linejoin="miter"/>
<line x1="578.47" y1="350.5" x2="634.93" y2="350.5" stroke-width="1.5"/>
<line x1="633.9" y1="350.5" x2="633.9" y2="382.05" stroke-width="2.05"/>
<line x1="632.87" y1="382.05" x2="700.21" y2="382.05" stroke-width="1.5"/>
<line x1="699.18" y1="382.05" x2="699.18" y2="413.4" stroke-width="2.05"/>
<line x1="698.15" y1="413.4" x2="906.93" y2="413.4" stroke-width="1.5"/>
<ellipse cx="633.9" cy="382.05" rx="5.83" ry="5.4" fill="#000" stroke="none"/>
<ellipse cx="699.18" cy="413.4" rx="5.83" ry="5.4" fill="#000" stroke="none"/>
<ellipse cx="905.9" cy="413.4" rx="5.83" ry="5.4" fill="#000" stroke="none"/>
<line x1="579.5" y1="350.5" x2="742.7" y2="350.5" stroke-width="1.5" stroke-dasharray="6.26 4.1" stroke-dashoffset="0"/>
<line x1="742.7" y1="350.5" x2="742.7" y2="382.05" stroke-width="3.02" stroke-dasharray="5.8 3.8" stroke-dashoffset="0"/>
<line x1="742.7" y1="382.05" x2="905.9" y2="382.05" stroke-width="2.7" stroke-dasharray="6.26 4.1" stroke-dashoffset="8.12"/>
<ellipse cx="742.7" cy="382.05" rx="5.45" ry="4.9" fill="none" stroke-width="1.2"/>
<ellipse cx="905.9" cy="382.05" rx="5.45" ry="4.9" fill="none" stroke-width="1.2"/>
<text class="san" transform="translate(983.7 338.1)" font-size="25.2" text-anchor="start" style="font-weight:normal">F</text>
<text class="ser" transform="translate(1000.2 437.7) rotate(-90) scale(1 1.19)" font-size="23.4" text-anchor="middle">Survival (%)</text>
<text class="ser" transform="translate(1220.7 599) scale(1.09 1)" font-size="22.4" text-anchor="middle">Days of infection</text>
<line x1="1101.04" y1="350.3" x2="1101.04" y2="539.4" stroke-width="1.51" stroke-dasharray="1.6 2"/>
<line x1="1058" y1="349.5" x2="1058" y2="540.8" stroke-width="3.24"/>
<line x1="1056.38" y1="539.4" x2="1385.05" y2="539.4" stroke-width="2.8"/>
<line x1="1054.11" y1="539.4" x2="1058" y2="539.4" stroke-width="2"/>
<text class="ser" transform="translate(1052.1 547) scale(1.13 1)" font-size="24" text-anchor="end">0</text>
<line x1="1055.52" y1="520.49" x2="1058" y2="520.49" stroke-width="1.2"/>
<line x1="1054.11" y1="501.58" x2="1058" y2="501.58" stroke-width="2"/>
<text class="ser" transform="translate(1052.1 509.18) scale(1.13 1)" font-size="24" text-anchor="end">20</text>
<line x1="1055.52" y1="482.67" x2="1058" y2="482.67" stroke-width="1.2"/>
<line x1="1054.11" y1="463.76" x2="1058" y2="463.76" stroke-width="2"/>
<text class="ser" transform="translate(1052.1 471.36) scale(1.13 1)" font-size="24" text-anchor="end">40</text>
<line x1="1055.52" y1="444.85" x2="1058" y2="444.85" stroke-width="1.2"/>
<line x1="1054.11" y1="425.94" x2="1058" y2="425.94" stroke-width="2"/>
<text class="ser" transform="translate(1052.1 433.54) scale(1.13 1)" font-size="24" text-anchor="end">60</text>
<line x1="1055.52" y1="407.03" x2="1058" y2="407.03" stroke-width="1.2"/>
<line x1="1054.11" y1="388.12" x2="1058" y2="388.12" stroke-width="2"/>
<text class="ser" transform="translate(1052.1 395.72) scale(1.13 1)" font-size="24" text-anchor="end">80</text>
<line x1="1055.52" y1="369.21" x2="1058" y2="369.21" stroke-width="1.2"/>
<line x1="1054.11" y1="350.3" x2="1058" y2="350.3" stroke-width="2"/>
<text class="ser" transform="translate(1052.1 357.9) scale(1.13 1)" font-size="24" text-anchor="end">100</text>
<line x1="1057.5" y1="539.4" x2="1057.5" y2="542.8" stroke-width="2.38"/>
<text class="ser" transform="translate(1057.2 565.4) scale(1.13 1)" font-size="24" text-anchor="middle">0</text>
<line x1="1111.92" y1="539.4" x2="1111.92" y2="542.8" stroke-width="2.38"/>
<text class="ser" transform="translate(1111.62 565.4) scale(1.13 1)" font-size="24" text-anchor="middle">5</text>
<line x1="1166.35" y1="539.4" x2="1166.35" y2="542.8" stroke-width="2.38"/>
<text class="ser" transform="translate(1166.05 565.4) scale(1.13 1)" font-size="24" text-anchor="middle">10</text>
<line x1="1220.78" y1="539.4" x2="1220.78" y2="542.8" stroke-width="2.38"/>
<text class="ser" transform="translate(1220.48 565.4) scale(1.13 1)" font-size="24" text-anchor="middle">15</text>
<line x1="1275.2" y1="539.4" x2="1275.2" y2="542.8" stroke-width="2.38"/>
<text class="ser" transform="translate(1274.9 565.4) scale(1.13 1)" font-size="24" text-anchor="middle">20</text>
<line x1="1329.62" y1="539.4" x2="1329.62" y2="542.8" stroke-width="2.38"/>
<text class="ser" transform="translate(1329.33 565.4) scale(1.13 1)" font-size="24" text-anchor="middle">25</text>
<line x1="1384.05" y1="539.4" x2="1384.05" y2="542.8" stroke-width="2.38"/>
<text class="ser" transform="translate(1383.75 565.4) scale(1.13 1)" font-size="24" text-anchor="middle">30</text>
<line x1="1071.11" y1="539.4" x2="1071.11" y2="541.7" stroke-width="1.84"/>
<line x1="1084.71" y1="539.4" x2="1084.71" y2="541.7" stroke-width="1.84"/>
<line x1="1098.32" y1="539.4" x2="1098.32" y2="541.7" stroke-width="1.84"/>
<line x1="1125.53" y1="539.4" x2="1125.53" y2="541.7" stroke-width="1.84"/>
<line x1="1139.14" y1="539.4" x2="1139.14" y2="541.7" stroke-width="1.84"/>
<line x1="1152.74" y1="539.4" x2="1152.74" y2="541.7" stroke-width="1.84"/>
<line x1="1179.96" y1="539.4" x2="1179.96" y2="541.7" stroke-width="1.84"/>
<line x1="1193.56" y1="539.4" x2="1193.56" y2="541.7" stroke-width="1.84"/>
<line x1="1207.17" y1="539.4" x2="1207.17" y2="541.7" stroke-width="1.84"/>
<line x1="1234.38" y1="539.4" x2="1234.38" y2="541.7" stroke-width="1.84"/>
<line x1="1247.99" y1="539.4" x2="1247.99" y2="541.7" stroke-width="1.84"/>
<line x1="1261.59" y1="539.4" x2="1261.59" y2="541.7" stroke-width="1.84"/>
<line x1="1288.81" y1="539.4" x2="1288.81" y2="541.7" stroke-width="1.84"/>
<line x1="1302.41" y1="539.4" x2="1302.41" y2="541.7" stroke-width="1.84"/>
<line x1="1316.02" y1="539.4" x2="1316.02" y2="541.7" stroke-width="1.84"/>
<line x1="1343.23" y1="539.4" x2="1343.23" y2="541.7" stroke-width="1.84"/>
<line x1="1356.84" y1="539.4" x2="1356.84" y2="541.7" stroke-width="1.84"/>
<line x1="1370.44" y1="539.4" x2="1370.44" y2="541.7" stroke-width="1.84"/>
<line x1="1056.47" y1="350.3" x2="1102.07" y2="350.3" stroke-width="1.5"/>
<line x1="1101.04" y1="350.3" x2="1101.04" y2="381.88" stroke-width="2.05"/>
<line x1="1100.01" y1="381.88" x2="1112.95" y2="381.88" stroke-width="1.5"/>
<line x1="1111.92" y1="381.88" x2="1111.92" y2="444.85" stroke-width="2.05"/>
<line x1="1110.9" y1="444.85" x2="1123.84" y2="444.85" stroke-width="1.5"/>
<line x1="1122.81" y1="444.85" x2="1122.81" y2="476.43" stroke-width="2.05"/>
<line x1="1121.78" y1="476.43" x2="1134.72" y2="476.43" stroke-width="1.5"/>
<line x1="1133.69" y1="476.43" x2="1133.69" y2="539.4" stroke-width="2.05"/>
<polygon points="1095.26,386.63 1106.82,386.63 1101.04,377.13" fill="#000" stroke="none"/>
<polygon points="1106.15,449.6 1117.7,449.6 1111.92,440.1" fill="#000" stroke="none"/>
<polygon points="1117.03,481.18 1128.59,481.18 1122.81,471.68" fill="#000" stroke="none"/>
<polygon points="1127.92,544.15 1139.47,544.15 1133.69,534.65" fill="#000" stroke="none"/>
<line x1="1057.5" y1="350.3" x2="1101.04" y2="350.3" stroke-width="1.5" stroke-dasharray="6.05 3.89" stroke-dashoffset="0"/>
<line x1="1101.04" y1="350.3" x2="1101.04" y2="381.88" stroke-width="3.02" stroke-dasharray="5.6 3.6" stroke-dashoffset="6.74"/>
<line x1="1101.04" y1="381.88" x2="1111.92" y2="381.88" stroke-width="2.7" stroke-dasharray="6.05 3.89" stroke-dashoffset="5.57"/>
<line x1="1111.92" y1="381.88" x2="1111.92" y2="413.27" stroke-width="3.02" stroke-dasharray="5.6 3.6" stroke-dashoffset="3.2"/>
<line x1="1111.92" y1="413.27" x2="1122.81" y2="413.27" stroke-width="2.7" stroke-dasharray="6.05 3.89" stroke-dashoffset="8.1"/>
<line x1="1122.81" y1="413.27" x2="1122.81" y2="507.82" stroke-width="3.02" stroke-dasharray="5.6 3.6" stroke-dashoffset="8.68"/>
<line x1="1122.81" y1="507.82" x2="1155.46" y2="507.82" stroke-width="2.7" stroke-dasharray="6.05 3.89" stroke-dashoffset="4.24"/>
<line x1="1155.46" y1="507.82" x2="1155.46" y2="539.4" stroke-width="3.02" stroke-dasharray="5.6 3.6" stroke-dashoffset="7.09"/>
<polygon points="1095.81,377.68 1106.27,377.68 1101.04,385.53" fill="none" stroke-width="1.1" stroke-linejoin="miter"/>
<polygon points="1106.7,409.07 1117.15,409.07 1111.92,416.92" fill="none" stroke-width="1.1" stroke-linejoin="miter"/>
<polygon points="1117.58,503.62 1128.04,503.62 1122.81,511.47" fill="none" stroke-width="1.1" stroke-linejoin="miter"/>
<polygon points="1150.24,535.2 1160.69,535.2 1155.46,543.05" fill="none" stroke-width="1.1" stroke-linejoin="miter"/>
<line x1="1056.47" y1="350.3" x2="1112.95" y2="350.3" stroke-width="1.5"/>
<line x1="1111.92" y1="350.3" x2="1111.92" y2="381.88" stroke-width="2.05"/>
<line x1="1110.9" y1="381.88" x2="1156.49" y2="381.88" stroke-width="1.5"/>
<line x1="1155.46" y1="381.88" x2="1155.46" y2="413.27" stroke-width="2.05"/>
<line x1="1154.44" y1="413.27" x2="1385.08" y2="413.27" stroke-width="1.5"/>
<ellipse cx="1111.92" cy="381.88" rx="5.83" ry="5.4" fill="#000" stroke="none"/>
<ellipse cx="1155.46" cy="413.27" rx="5.83" ry="5.4" fill="#000" stroke="none"/>
<ellipse cx="1384.05" cy="413.27" rx="5.83" ry="5.4" fill="#000" stroke="none"/>
<line x1="1057.5" y1="350.3" x2="1384.05" y2="350.3" stroke-width="1.5" stroke-dasharray="6.26 4.1" stroke-dashoffset="0"/>
<ellipse cx="1384.05" cy="350.3" rx="5.45" ry="4.9" fill="none" stroke-width="1.2"/>
<line x1="171.1" y1="653.8" x2="202.9" y2="653.8" stroke-width="4.6"/>
<polygon points="175,665.7 198.9,665.7 186.9,642.1" fill="#000" stroke="none"/>
<text class="ser" transform="translate(220.1 661.6)" font-size="26.9" text-anchor="start">Vehicle</text>
<line x1="470.3" y1="653.8" x2="501.7" y2="653.8" stroke-width="4.8"/>
<polygon points="473,640.3 499.4,640.3 486.2,666.2" fill="#000" stroke="none"/>
<polygon points="477.24,642.9 495.16,642.9 486.2,660.47" fill="#fff" stroke="none"/>
<text class="ser" transform="translate(519.8 661.7) scale(1.03 1)" font-size="27.3" text-anchor="start">Blank NC</text>
<line x1="785.1" y1="653.8" x2="816.3" y2="653.8" stroke-width="5"/>
<ellipse cx="800.4" cy="653.8" rx="12.1" ry="12.1" fill="#000" stroke="none"/>
<text class="ser" transform="translate(861.9 662) scale(1.02 1)" font-size="27.3" text-anchor="start">Free ATM</text>
<line x1="1128.1" y1="653.8" x2="1139.6" y2="653.8" stroke-width="5.2"/>
<line x1="1148.6" y1="653.8" x2="1159.8" y2="653.8" stroke-width="5.2"/>
<circle cx="1144.1" cy="653.8" r="11.4" fill="none" stroke-width="2.3"/>
<text class="ser" transform="translate(1176 661.8) scale(1.02 1)" font-size="27.3" text-anchor="start">ATM-NC</text>
</svg>
</body>
</html>
